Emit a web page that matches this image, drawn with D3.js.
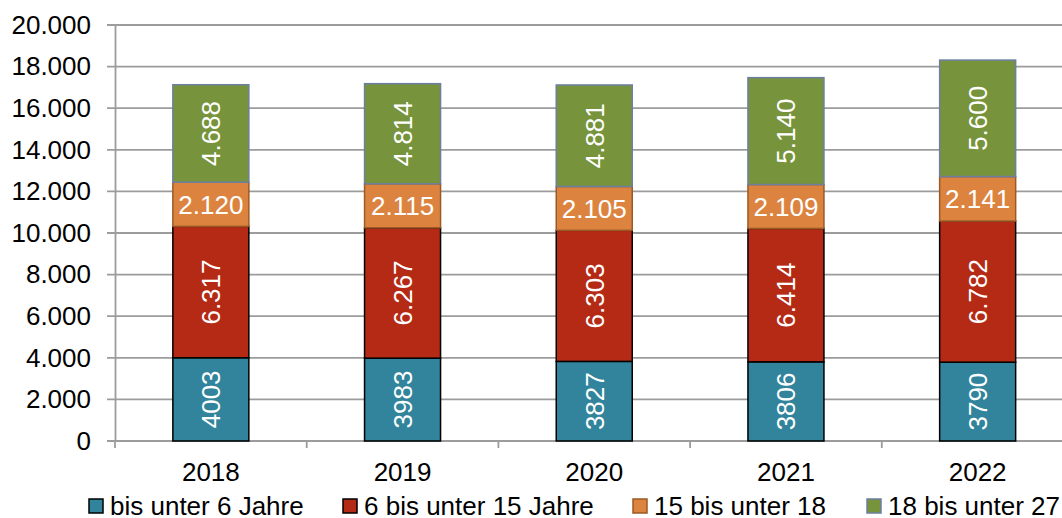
<!DOCTYPE html>
<html>
<head>
<meta charset="utf-8">
<script src="https://cdn.jsdelivr.net/npm/d3@7"></script>
<style>
  body { margin: 0; background: #fff; }
  svg { display: block; font-family: "Liberation Sans", Arial, sans-serif; }
</style>
</head>
<body>
<script>
var jahre = ["2018", "2019", "2020", "2021", "2022"];
var serien = ["bis unter 6 Jahre", "6 bis unter 15 Jahre", "15 bis unter 18", "18 bis unter 27"];
var unter6 = [4003, 3983, 3827, 3806, 3790];
var von6bis15 = [6317, 6267, 6303, 6414, 6782];
var von15bis18 = [2120, 2115, 2105, 2109, 2141];
var von18bis27 = [4688, 4814, 4881, 5140, 5600];
var yTicks = [0, 2000, 4000, 6000, 8000, 10000, 12000, 14000, 16000, 18000, 20000];

var farben = ["#31849B", "#B52A15", "#DC843F", "#77933C"];
var rahmen = ["#000000", "#000000", "#9A5A26", "#6D7FA0"];
var gedreht = [true, true, false, true];

var w = 1062, h = 518;
var links = 115, oben = 25, unten = 441;
var band = 191.7;
var barW = 76;
var fs = 26;

var svg = d3.select("body").append("svg").attr("width", w).attr("height", h);

var fmt = d3.formatLocale({decimal: ",", thousands: ".", grouping: [3], currency: ["", "€"]}).format(",d");

var x = d3.scaleBand().domain(jahre).range([links, links + band * jahre.length]).padding(0);
var y = d3.scaleLinear().domain([0, 20000]).range([unten, oben]);

// Gitterlinien
svg.append("g").selectAll("line").data(yTicks).enter().append("line")
  .attr("x1", links - 8).attr("x2", w)
  .attr("y1", function (d) { return y(d); }).attr("y2", function (d) { return y(d); })
  .attr("stroke", "#9c9c9c").attr("stroke-width", 1.8);

// Y-Achse
var yAxis = svg.append("g").attr("transform", "translate(" + links + ",0)")
  .call(d3.axisLeft(y).tickValues(yTicks).tickFormat(fmt).tickSize(0).tickPadding(24));
yAxis.select(".domain").attr("stroke", "#9c9c9c").attr("stroke-width", 1.8);
yAxis.selectAll("text").attr("font-size", fs).attr("fill", "#000").attr("font-family", "Liberation Sans, Arial, sans-serif");

// X-Achse
svg.append("line").attr("x1", links).attr("x2", w).attr("y1", unten).attr("y2", unten)
  .attr("stroke", "#9c9c9c").attr("stroke-width", 1.8);
svg.append("g").selectAll("line").data(d3.range(jahre.length + 1)).enter().append("line")
  .attr("x1", function (i) { return links + i * band; }).attr("x2", function (i) { return links + i * band; })
  .attr("y1", unten).attr("y2", unten + 7)
  .attr("stroke", "#9c9c9c").attr("stroke-width", 1.8);
svg.append("g").selectAll("text").data(jahre).enter().append("text")
  .attr("x", function (d) { return x(d) + x.bandwidth() / 2; })
  .attr("y", 481).attr("text-anchor", "middle").attr("font-size", fs).text(function (d) { return d; });

// Stapel
var tabelle = jahre.map(function (j, i) {
  return {jahr: j, s0: unter6[i], s1: von6bis15[i], s2: von15bis18[i], s3: von18bis27[i]};
});
var stack = d3.stack().keys(["s0", "s1", "s2", "s3"])(tabelle);

stack.forEach(function (layer, k) {
  var g = svg.append("g");
  g.selectAll("rect").data(layer).enter().append("rect")
    .attr("x", function (d) { return x(d.data.jahr) + x.bandwidth() / 2 - barW / 2; })
    .attr("width", barW)
    .attr("y", function (d) { return y(d[1]); })
    .attr("height", function (d) { return y(d[0]) - y(d[1]); })
    .attr("fill", farben[k]).attr("stroke", rahmen[k]).attr("stroke-width", 1.5);

  g.selectAll("text").data(layer).enter().append("text")
    .attr("transform", function (d) {
      var cx = x(d.data.jahr) + x.bandwidth() / 2;
      var cy = (y(d[0]) + y(d[1])) / 2;
      return gedreht[k] ? "translate(" + cx + "," + cy + ") rotate(-90)" : "translate(" + cx + "," + cy + ")";
    })
    .attr("text-anchor", "middle").attr("dy", "0.36em")
    .attr("fill", "#fff").attr("font-size", fs)
    .text(function (d) { var v = d[1] - d[0]; return k === 0 ? String(v) : fmt(v); });
});

// Legende
var legX = [89, 343, 633, 867];
var leg = svg.append("g").selectAll("g").data(serien).enter().append("g")
  .attr("transform", function (d, i) { return "translate(" + legX[i] + ",499)"; });
leg.append("rect").attr("width", 14).attr("height", 14)
  .attr("fill", function (d, i) { return farben[i]; })
  .attr("stroke", function (d, i) { return i < 2 ? "#000" : rahmen[i]; }).attr("stroke-width", 1.5);
leg.append("text").attr("x", 21).attr("y", 7).attr("dy", "0.36em").attr("font-size", fs)
  .text(function (d) { return d; });
</script>
</body>
</html>
